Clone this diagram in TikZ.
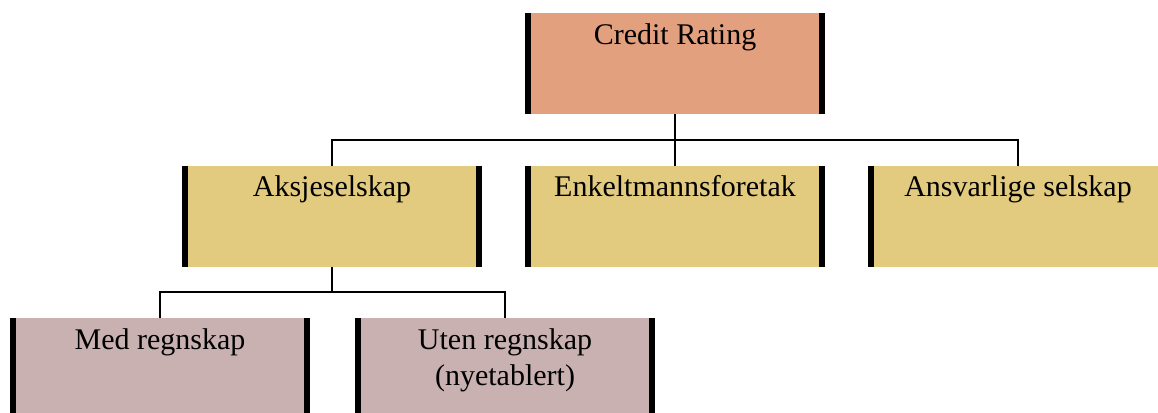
\documentclass[tikz,border=0pt]{standalone}
\usepackage{fontspec}
\setmainfont{Liberation Serif}
\definecolor{topc}{HTML}{E2A07E}
\definecolor{midc}{HTML}{E2CA7E}
\definecolor{lowc}{HTML}{C9B1B1}
\begin{document}
\begin{tikzpicture}[x=1pt,y=-1pt,
  box/.style={rectangle, minimum width=300pt, minimum height=101pt, inner sep=0pt, outer sep=0pt},
  txt/.style={anchor=north, inner sep=0pt, align=center, font=\fontsize{30}{36}\selectfont},
  bar/.style={line width=6pt},
  conn/.style={line width=2pt}]
\useasboundingbox (0,0) rectangle (1158,412);
\clip (0,0) rectangle (1158,412);
\fill[white] (0,0) rectangle (1158,412);
% boxes
\node[box, fill=topc] (cr) at (675,63.5) {};
\node[box, fill=midc] (aks) at (332,216) {};
\node[box, fill=midc] (enk) at (675,216) {};
\node[box, fill=midc] (ans) at (1018,216) {};
\node[box, fill=lowc] (med) at (160,368.5) {};
\node[box, fill=lowc] (ute) at (505,368.5) {};
% texts
\node[txt] (tcr) at ([yshift=-10pt]cr.north) {Credit Rating};
\node[txt] (taks) at ([yshift=-10pt]aks.north) {Aksjeselskap};
\node[txt] (tenk) at ([yshift=-10pt]enk.north) {Enkeltmannsforetak};
\node[txt] (tans) at ([yshift=-10pt]ans.north) {Ansvarlige selskap};
\node[txt] (tmed) at ([yshift=-10pt]med.north) {Med regnskap};
\node[txt] (tute) at ([yshift=-10pt]ute.north) {Uten regnskap\\(nyetablert)};
% bars
\foreach \b in {cr,aks,enk,ans,med,ute}{
  \draw[bar] ([xshift=3pt]\b.north west) -- ([xshift=3pt]\b.south west);
  \draw[bar] ([xshift=-3pt]\b.north east) -- ([xshift=-3pt]\b.south east);
}
% connectors
\coordinate (j1) at (675,140);
\coordinate (j2) at (332,292);
\draw[conn] (cr.south) -- (j1);
\draw[conn] (aks.north) |- (j1) -| (ans.north);
\draw[conn] (j1) -- (enk.north);
\draw[conn] (aks.south) -- (j2);
\draw[conn] (med.north) |- (j2) -| (ute.north);
\end{tikzpicture}
\end{document}
